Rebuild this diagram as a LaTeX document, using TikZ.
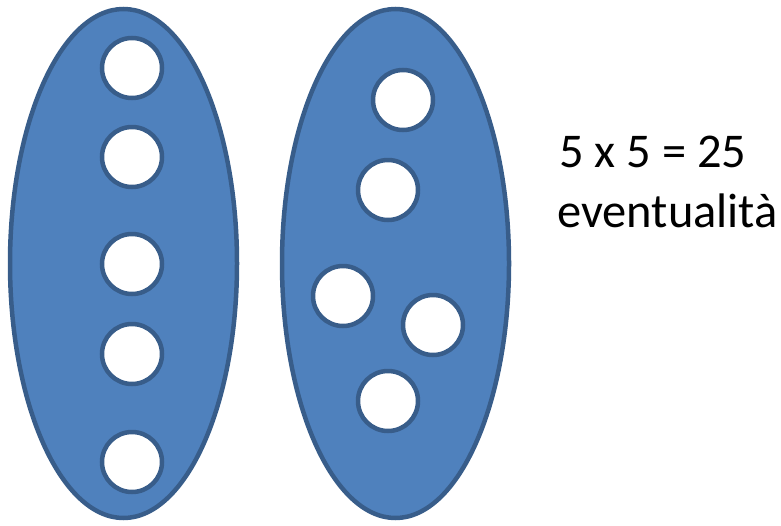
\documentclass[tikz,border=0pt]{standalone}
\usepackage{fontspec}
\setmainfont{Carlito}
\usetikzlibrary{shapes.geometric}
\definecolor{setblue}{HTML}{4F81BD}
\definecolor{setedge}{HTML}{385D8A}

\begin{document}
\begin{tikzpicture}[
  x=1pt, y=-1pt,
  setshape/.style={ellipse, draw=setedge, fill=setblue, line width=4.5pt, minimum width=227pt, minimum height=509pt, inner sep=0pt},
  ball/.style={circle, draw=setedge, fill=white, line width=4.5pt, minimum size=60pt, inner sep=0pt},
  note/.style={anchor=base west, font=\fontsize{48.5}{60}\selectfont, inner sep=0pt}
]
\useasboundingbox (0,0) rectangle (781,525);

\node[setshape] (leftset) at (123.5,263.5) {};
\node[setshape] (rightset) at (395.5,263.5) {};

% left set
\node[ball] (l1) at (132,68) {};
\node[ball] (l2) at (132,157) {};
\node[ball] (l3) at (132,264) {};
\node[ball] (l4) at (132,354) {};
\node[ball] (l5) at (132,462) {};

% right set
\node[ball] (r1) at (403,100) {};
\node[ball] (r2) at (388,190) {};
\node[ball] (r3) at (343,296) {};
\node[ball] (r4) at (433,325) {};
\node[ball] (r5) at (388,401) {};

\node[note] (count) at (559,167) {5 x 5 = 25};
\node[note] (word) at (557,227) {eventualità};
\end{tikzpicture}
\end{document}
